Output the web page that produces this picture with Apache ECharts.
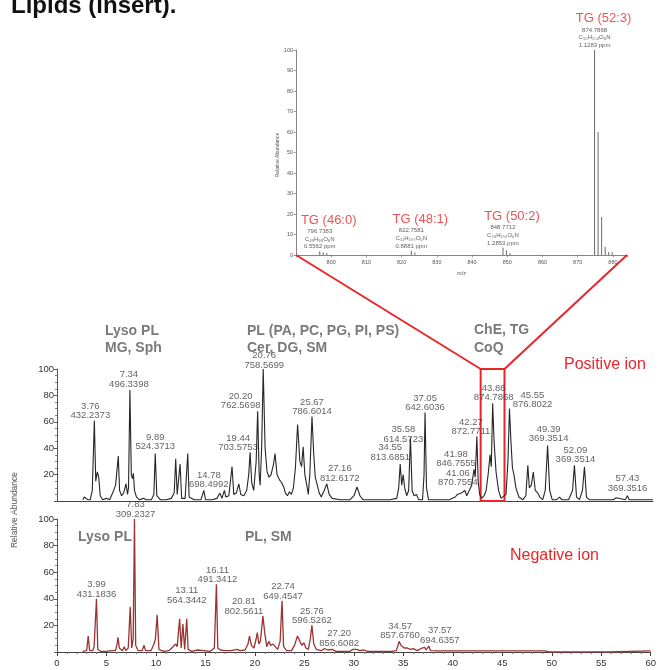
<!DOCTYPE html>
<html>
<head>
<meta charset="utf-8">
<script src="https://cdn.jsdelivr.net/npm/echarts@6/dist/echarts.min.js"></script>
<style>
  html, body { margin: 0; padding: 0; background: #fff; }
  #chart { width: 659px; height: 670px; }
</style>
</head>
<body>
<div id="chart"></div>
<script>
// ---- Mass spectrum of the TG cluster (m/z vs relative abundance) ----
const spectrumMz = [796.7383, 797.74, 798.74, 822.7581, 823.76, 848.7712, 849.77, 850.78,
  874.7868, 875.79, 876.79, 877.80, 878.80, 879.80];
const spectrumAbundance = [1.8, 1.4, 1.0, 2.1, 1.2, 3.5, 2.3, 1.0, 100, 60, 18.5, 4, 1.5, 1.3];

// annotated TG species in the spectrum
const tgNames = ['TG (46:0)', 'TG (48:1)', 'TG (50:2)', 'TG (52:3)'];
const tgMz = [796.7383, 822.7581, 848.7712, 874.7868];
const tgFormula = ['C\u2084\u2089H\u2089\u2088O\u2086N', 'C\u2085\u2081H\u2081\u2080\u2080O\u2086N',
  'C\u2085\u2083H\u2081\u2080\u2082O\u2086N', 'C\u2085\u2085H\u2081\u2080\u2084O\u2086N'];
const tgPpm = ['0.5562 ppm', '0.8881 ppm', '1.2853 ppm', '1.1283 ppm'];

// ---- Positive ion chromatogram: [time (min), relative abundance] ----
const positiveTrace = [
  [2.6, 1], [2.75, 3], [2.95, 2.5], [3.1, 1], [3.35, 1], [3.55, 8], [3.76, 61], [3.9, 15], [4.06, 22],
  [4.2, 18], [4.35, 4], [4.6, 1], [5.0, 2], [5.3, 1], [5.6, 6], [5.9, 12], [6.17, 34], [6.3, 8],
  [6.5, 4], [6.7, 6], [6.95, 13], [7.1, 5], [7.2, 10], [7.34, 84], [7.48, 20], [7.6, 17], [7.69, 21],
  [7.8, 8], [8.0, 3], [8.3, 1], [8.7, 2], [9.0, 1], [9.5, 1], [9.75, 5], [9.89, 36], [10.05, 4],
  [10.4, 1], [11.0, 1], [11.5, 2], [11.8, 6], [11.95, 32], [12.1, 5], [12.25, 6], [12.39, 28],
  [12.55, 2], [12.9, 2], [13.16, 36], [13.3, 3], [13.8, 1], [14.5, 1], [14.78, 8], [14.95, 1],
  [15.6, 1], [16.1, 2], [16.4, 6], [16.6, 2], [16.85, 8], [17.0, 3], [17.3, 4], [17.62, 26],
  [17.8, 5], [18.05, 6], [18.3, 13], [18.5, 5], [18.8, 4], [19.1, 8], [19.3, 20], [19.44, 37],
  [19.6, 14], [19.8, 8], [20.05, 30], [20.20, 68], [20.35, 20], [20.45, 12], [20.6, 40], [20.76, 100],
  [20.95, 40], [21.15, 22], [21.35, 18], [21.55, 20], [21.8, 28], [21.95, 36], [22.15, 20], [22.4, 16],
  [22.6, 14], [22.85, 10], [23.0, 6], [23.2, 4], [23.4, 7], [23.6, 5], [23.8, 10], [24.0, 25],
  [24.22, 58], [24.45, 30], [24.62, 26], [24.78, 41], [24.95, 20], [25.15, 12], [25.3, 5], [25.45, 20],
  [25.67, 64], [25.85, 35], [26.0, 18], [26.2, 12], [26.4, 6], [26.6, 3], [26.9, 8], [27.16, 13],
  [27.4, 5], [27.7, 2], [28.5, 1], [29.5, 1], [29.9, 4], [30.2, 10.6], [30.5, 4], [30.8, 1], [32.0, 1],
  [33.5, 1], [34.2, 2], [34.4, 10], [34.55, 28], [34.7, 12], [34.85, 20], [35.0, 10], [35.2, 4],
  [35.4, 8], [35.58, 48], [35.75, 8], [35.95, 4], [36.2, 5], [36.4, 1], [36.8, 1], [36.95, 20],
  [37.05, 67], [37.2, 10], [37.4, 1], [38.5, 1], [39.5, 1], [39.8, 2], [40.1, 3], [40.3, 5], [40.5, 4],
  [40.7, 6], [40.9, 5], [41.06, 8], [41.25, 4], [41.5, 8], [41.75, 12], [41.98, 24], [42.1, 18],
  [42.27, 49], [42.4, 15], [42.55, 5], [42.75, 2], [43.0, 4], [43.2, 8], [43.4, 20], [43.6, 35],
  [43.72, 26], [43.86, 74], [44.0, 45], [44.2, 22], [44.45, 8], [44.7, 2], [44.9, 1], [45.2, 5],
  [45.4, 30], [45.55, 70], [45.7, 45], [45.85, 25], [46.0, 20], [46.2, 10], [46.5, 3], [46.9, 1],
  [47.2, 4], [47.4, 27], [47.55, 10], [47.75, 12], [47.95, 22], [48.15, 8], [48.4, 6], [48.6, 3],
  [48.9, 1], [49.15, 8], [49.39, 42], [49.6, 8], [49.85, 1], [50.3, 1], [50.6, 3], [50.8, 1],
  [51.5, 1], [51.9, 8], [52.09, 27], [52.3, 3], [52.6, 1], [52.9, 8], [53.1, 26], [53.3, 3],
  [53.6, 1], [56.0, 1], [56.3, 2.5], [56.5, 1], [57.2, 1], [57.43, 4], [57.6, 1], [60, 1]
];
const positivePeakTimes = [3.76, 7.34, 9.89, 14.78, 19.44, 20.20, 20.76, 25.67, 27.16, 34.55,
  35.58, 37.05, 41.06, 41.98, 42.27, 43.86, 45.55, 49.39, 52.09, 57.43];
const positivePeakMz = ['432.2373', '496.3398', '524.3713', '698.4992', '703.5753', '762.5698',
  '758.5699', '786.6014', '812.6172', '813.6851', '614.5723', '642.6036', '870.7554', '846.7555',
  '872.7711', '874.7868', '876.8022', '369.3514', '369.3514', '369.3516'];

// ---- Negative ion chromatogram ----
const negativeTrace = [
  [2.6, 0.5], [2.8, 1.5], [3.0, 1], [3.15, 12], [3.3, 1], [3.6, 1], [3.75, 4], [3.85, 3], [3.99, 40],
  [4.12, 2], [4.4, 0.5], [5.0, 0.5], [5.5, 1], [5.9, 1], [6.05, 5], [6.17, 11], [6.3, 3], [6.6, 1],
  [6.8, 4], [6.95, 1], [7.2, 3], [7.4, 34], [7.55, 3], [7.7, 10], [7.83, 100], [7.95, 5], [8.2, 1],
  [8.6, 1], [8.8, 5], [8.95, 1], [9.5, 1], [9.8, 6], [9.95, 10], [10.12, 28], [10.3, 2], [10.8, 0.5],
  [11.3, 1], [11.6, 3], [11.8, 4], [12.0, 6], [12.15, 4], [12.39, 25], [12.55, 3], [12.72, 21],
  [12.9, 2], [13.11, 25], [13.25, 2], [13.6, 0.5], [14.2, 1.5], [14.4, 0.5], [15.5, 0.5], [15.9, 3],
  [16.11, 51], [16.25, 3], [16.5, 1.5], [16.7, 2], [17.0, 1], [17.6, 1], [18.2, 2], [18.5, 1],
  [19.0, 1.5], [19.3, 6], [19.45, 12], [19.65, 5], [19.9, 3], [20.1, 9], [20.24, 14.5], [20.4, 6],
  [20.55, 8], [20.81, 27], [21.0, 14], [21.2, 4], [21.4, 8], [21.6, 5], [21.85, 6], [22.05, 4],
  [22.3, 2], [22.55, 8], [22.74, 38.5], [22.9, 4], [23.2, 1], [23.7, 1], [24.0, 5], [24.3, 12],
  [24.55, 8], [24.75, 5], [24.95, 7], [25.15, 3], [25.4, 2], [25.6, 10], [25.76, 20], [25.95, 6],
  [26.2, 2], [26.7, 1], [27.0, 2.5], [27.2, 3], [27.4, 1.5], [27.8, 2], [28.2, 0.5], [29.6, 0.5],
  [29.9, 2], [30.3, 2], [30.6, 1], [31.0, 1.5], [31.4, 0.5], [32.5, 0.5], [32.7, 2], [32.9, 0.5],
  [33.8, 0.5], [34.0, 2], [34.3, 1], [34.57, 8], [34.75, 5], [34.9, 6], [35.1, 3], [35.4, 3],
  [35.7, 2], [36.0, 2.5], [36.4, 1], [36.9, 3], [37.15, 3.5], [37.3, 1.5], [37.57, 4.5], [37.75, 1],
  [38.5, 0.8], [40, 0.8], [45, 0.8], [49.3, 0.8], [49.5, 1.2], [49.7, 0], [55.6, 0], [55.7, 0.8], [60, 0.8]
];
const negativePeakTimes = [3.99, 7.83, 13.11, 16.11, 20.81, 22.74, 25.76, 27.20, 34.57, 37.57];
const negativePeakMz = ['431.1836', '309.2327', '564.3442', '491.3412', '802.5611', '649.4547',
  '596.5262', '856.6082', '857.6760', '694.6357'];

// time window that is expanded in the spectrum above
const zoomWindow = [42.65, 45.05];

// ---- label placement: [horizontal shift, gap above apex] in px ----
const positiveLabelShift = [[-4, 0], [-1, 1], [0, 2], [5, 1], [-12, 0], [-17, 1], [1, -1], [0, 0],
  [13, 1], [-10, 2], [-7, -6], [0, 0], [-7, 3], [-18, 1], [-6, 0], [1, 1], [23, -1], [1, 2], [1, 1], [0, 3]];
const negativeLabelShift = [[0, 0], [1, 0], [0, 14], [1, 0], [-19, 0], [1, 0], [0, 0], [13, 0], [1, 1], [11, 1]];

const RED = '#e8262a';
const AXIS = '#666';
const FONT = '"Liberation Sans", Arial, sans-serif';

function valueAt(trace, t) {
  const p = trace.find(d => d[0] === t);
  return p ? p[1] : 0;
}

function peakLabels(name, times, mzs, shifts, trace, axisIndex) {
  return {
    name: name,
    type: 'scatter',
    xAxisIndex: axisIndex, yAxisIndex: axisIndex,
    symbolSize: 0,
    silent: true,
    z: 5,
    data: times.map((t, i) => ({
      value: [t, valueAt(trace, t)],
      label: { offset: [shifts[i][0], -shifts[i][1]] }
    })),
    label: {
      show: true, position: 'top', distance: 0,
      fontFamily: FONT, fontSize: 9.5, lineHeight: 9.5, color: '#3a3a3a',
      formatter: p => times[p.dataIndex].toFixed(2) + '\n' + mzs[p.dataIndex]
    }
  };
}

const chart = echarts.init(document.getElementById('chart'), null, { renderer: 'canvas' });

const option = {
  animation: false,
  backgroundColor: '#fff',
  grid: [
    { left: 296, top: 50, width: 331, height: 205 },
    { left: 57, top: 369, width: 596, height: 132 },
    { left: 57, top: 519, width: 596, height: 133 }
  ],
  xAxis: [
    {
      gridIndex: 0, type: 'value', min: 790, max: 884, interval: 10,
      axisLine: { lineStyle: { color: AXIS, width: 0.8 } },
      axisTick: { length: 2.5, lineStyle: { color: AXIS, width: 0.6 } },
      axisLabel: { fontSize: 5.5, color: '#555', margin: 4, fontFamily: FONT,
        formatter: v => (v % 10 === 0 && v !== 790) ? String(v) : '' },
      splitLine: { show: false },
      name: 'm/z', nameLocation: 'middle', nameGap: 15,
      nameTextStyle: { fontSize: 5.5, color: '#555', fontFamily: FONT }
    },
    {
      gridIndex: 1, type: 'value', min: 0, max: 60,
      axisLine: { lineStyle: { color: '#444', width: 1 } },
      axisTick: { show: false }, axisLabel: { show: false }, splitLine: { show: false }
    },
    {
      gridIndex: 2, type: 'value', min: 0, max: 60, interval: 5,
      axisLine: { lineStyle: { color: '#444', width: 1 } },
      axisTick: { length: 4, lineStyle: { color: '#444' } },
      minorTick: { show: true, splitNumber: 5, length: 2, lineStyle: { color: '#777' } },
      axisLabel: { fontSize: 9.5, color: '#333', margin: 6, fontFamily: FONT },
      splitLine: { show: false }
    }
  ],
  yAxis: [
    {
      gridIndex: 0, type: 'value', min: 0, max: 100, interval: 10,
      axisLine: { show: true, lineStyle: { color: AXIS, width: 0.8 } },
      axisTick: { show: true, length: 2.5, lineStyle: { color: AXIS, width: 0.6 } },
      axisLabel: { fontSize: 5.5, color: '#555', margin: 3, fontFamily: FONT },
      splitLine: { show: false }
    },
    {
      gridIndex: 1, type: 'value', min: 0, max: 100, interval: 20,
      axisLine: { show: true, lineStyle: { color: '#555', width: 1 } },
      axisTick: { show: true, length: 3, lineStyle: { color: '#555' } },
      minorTick: { show: true, splitNumber: 4, length: 2, lineStyle: { color: '#888' } },
      axisLabel: { fontSize: 9.5, color: '#333', margin: 3, fontFamily: FONT,
        formatter: v => v === 0 ? '' : String(v) },
      splitLine: { show: false }
    },
    {
      gridIndex: 2, type: 'value', min: 0, max: 100, interval: 20,
      axisLine: { show: true, lineStyle: { color: '#555', width: 1 } },
      axisTick: { show: true, length: 3, lineStyle: { color: '#555' } },
      minorTick: { show: true, splitNumber: 4, length: 2, lineStyle: { color: '#888' } },
      axisLabel: { fontSize: 9.5, color: '#333', margin: 3, fontFamily: FONT,
        formatter: v => v === 0 ? '' : String(v) },
      splitLine: { show: false }
    }
  ],
  series: [
    {
      name: 'spectrum', type: 'bar', xAxisIndex: 0, yAxisIndex: 0,
      barWidth: 1, itemStyle: { color: '#6a6a6a' },
      data: spectrumMz.map((m, i) => [m, spectrumAbundance[i]])
    },
    {
      name: 'tgLabels', type: 'scatter', xAxisIndex: 0, yAxisIndex: 0,
      symbolSize: 0, silent: true,
      data: tgMz.map(m => [m, spectrumAbundance[spectrumMz.indexOf(m)]]),
      label: {
        show: true, position: 'top', distance: 1, align: 'center',
        formatter: p => '{tg|' + tgNames[p.dataIndex] + '}\n{s|' + tgMz[p.dataIndex].toFixed(4) +
          '}\n{s|' + tgFormula[p.dataIndex] + '}\n{s|' + tgPpm[p.dataIndex] + '}',
        rich: {
          tg: { fontFamily: FONT, fontSize: 13, lineHeight: 15, color: RED, padding: [0, 0, 0, 18] },
          s: { fontFamily: FONT, fontSize: 6, lineHeight: 7.6, color: '#333' }
        }
      }
    },
    {
      name: 'Positive ion', type: 'line', xAxisIndex: 1, yAxisIndex: 1,
      showSymbol: false, symbol: 'none',
      lineStyle: { color: '#262626', width: 1.1 },
      data: positiveTrace,
      markArea: {
        silent: true,
        itemStyle: { color: 'rgba(0,0,0,0)', borderColor: RED, borderWidth: 2 },
        data: [[{ xAxis: zoomWindow[0], yAxis: 0 }, { xAxis: zoomWindow[1], yAxis: 100 }]]
      }
    },
    peakLabels('positiveLabels', positivePeakTimes, positivePeakMz, positiveLabelShift, positiveTrace, 1),
    {
      name: 'Negative ion', type: 'line', xAxisIndex: 2, yAxisIndex: 2,
      showSymbol: false, symbol: 'none',
      lineStyle: { color: '#9a3434', width: 1.3 },
      data: negativeTrace
    },
    peakLabels('negativeLabels', negativePeakTimes, negativePeakMz, negativeLabelShift, negativeTrace, 2)
  ]
};

chart.setOption(option);

// connector lines from the highlighted time window up to the spectrum axis
const boxLeft = chart.convertToPixel({ gridIndex: 1 }, [zoomWindow[0], 100]);
const boxRight = chart.convertToPixel({ gridIndex: 1 }, [zoomWindow[1], 100]);
const specLeft = chart.convertToPixel({ gridIndex: 0 }, [790, 0]);
const specRight = chart.convertToPixel({ gridIndex: 0 }, [884, 0]);

function txt(text, x, y, size, color, opts) {
  return Object.assign({
    type: 'text', x: x, y: y, silent: true,
    style: Object.assign({ text: text, fill: color, font: size + 'px ' + FONT,
      textAlign: 'left', textVerticalAlign: 'middle' }, (opts && opts.style) || {})
  }, (opts && opts.el) || {});
}
const bold = (s) => ({ style: { font: 'bold ' + s + 'px ' + FONT } });

chart.setOption({
  graphic: [
    { type: 'line', silent: true, z: 10, shape: { x1: boxLeft[0], y1: boxLeft[1], x2: specLeft[0], y2: specLeft[1] },
      style: { stroke: RED, lineWidth: 2 } },
    { type: 'line', silent: true, z: 10, shape: { x1: boxRight[0], y1: boxRight[1], x2: specRight[0], y2: specRight[1] },
      style: { stroke: RED, lineWidth: 2 } },
    txt('Lipids (insert).', 11, 6, 24, '#111', bold(24)),
    txt('Relative Abundance', 278, 155, 5, '#555', { style: { textAlign: 'center' }, el: { rotation: Math.PI / 2 } }),
    txt('Lyso PL', 105, 331, 14, '#7a7a7a', bold(14)),
    txt('MG, Sph', 105, 348, 14, '#7a7a7a', bold(14)),
    txt('PL (PA, PC, PG, PI, PS)', 247, 331, 14, '#7a7a7a', bold(14)),
    txt('Cer, DG, SM', 247, 348, 14, '#7a7a7a', bold(14)),
    txt('ChE, TG', 474, 330, 14, '#7a7a7a', bold(14)),
    txt('CoQ', 474, 348, 14, '#7a7a7a', bold(14)),
    txt('Positive ion', 564, 365, 16, RED),
    txt('Lyso PL', 78, 537, 14, '#7a7a7a', bold(14)),
    txt('PL, SM', 245, 537, 14, '#7a7a7a', bold(14)),
    txt('Negative ion', 510, 556, 16, RED),
    txt('Relative Abundance', 15, 510, 8.5, '#555', { style: { textAlign: 'center' }, el: { rotation: Math.PI / 2 } }),
    txt('Time (min)', 355, 677, 10, '#333', { style: { textAlign: 'center' } })
  ]
});
</script>
</body>
</html>
